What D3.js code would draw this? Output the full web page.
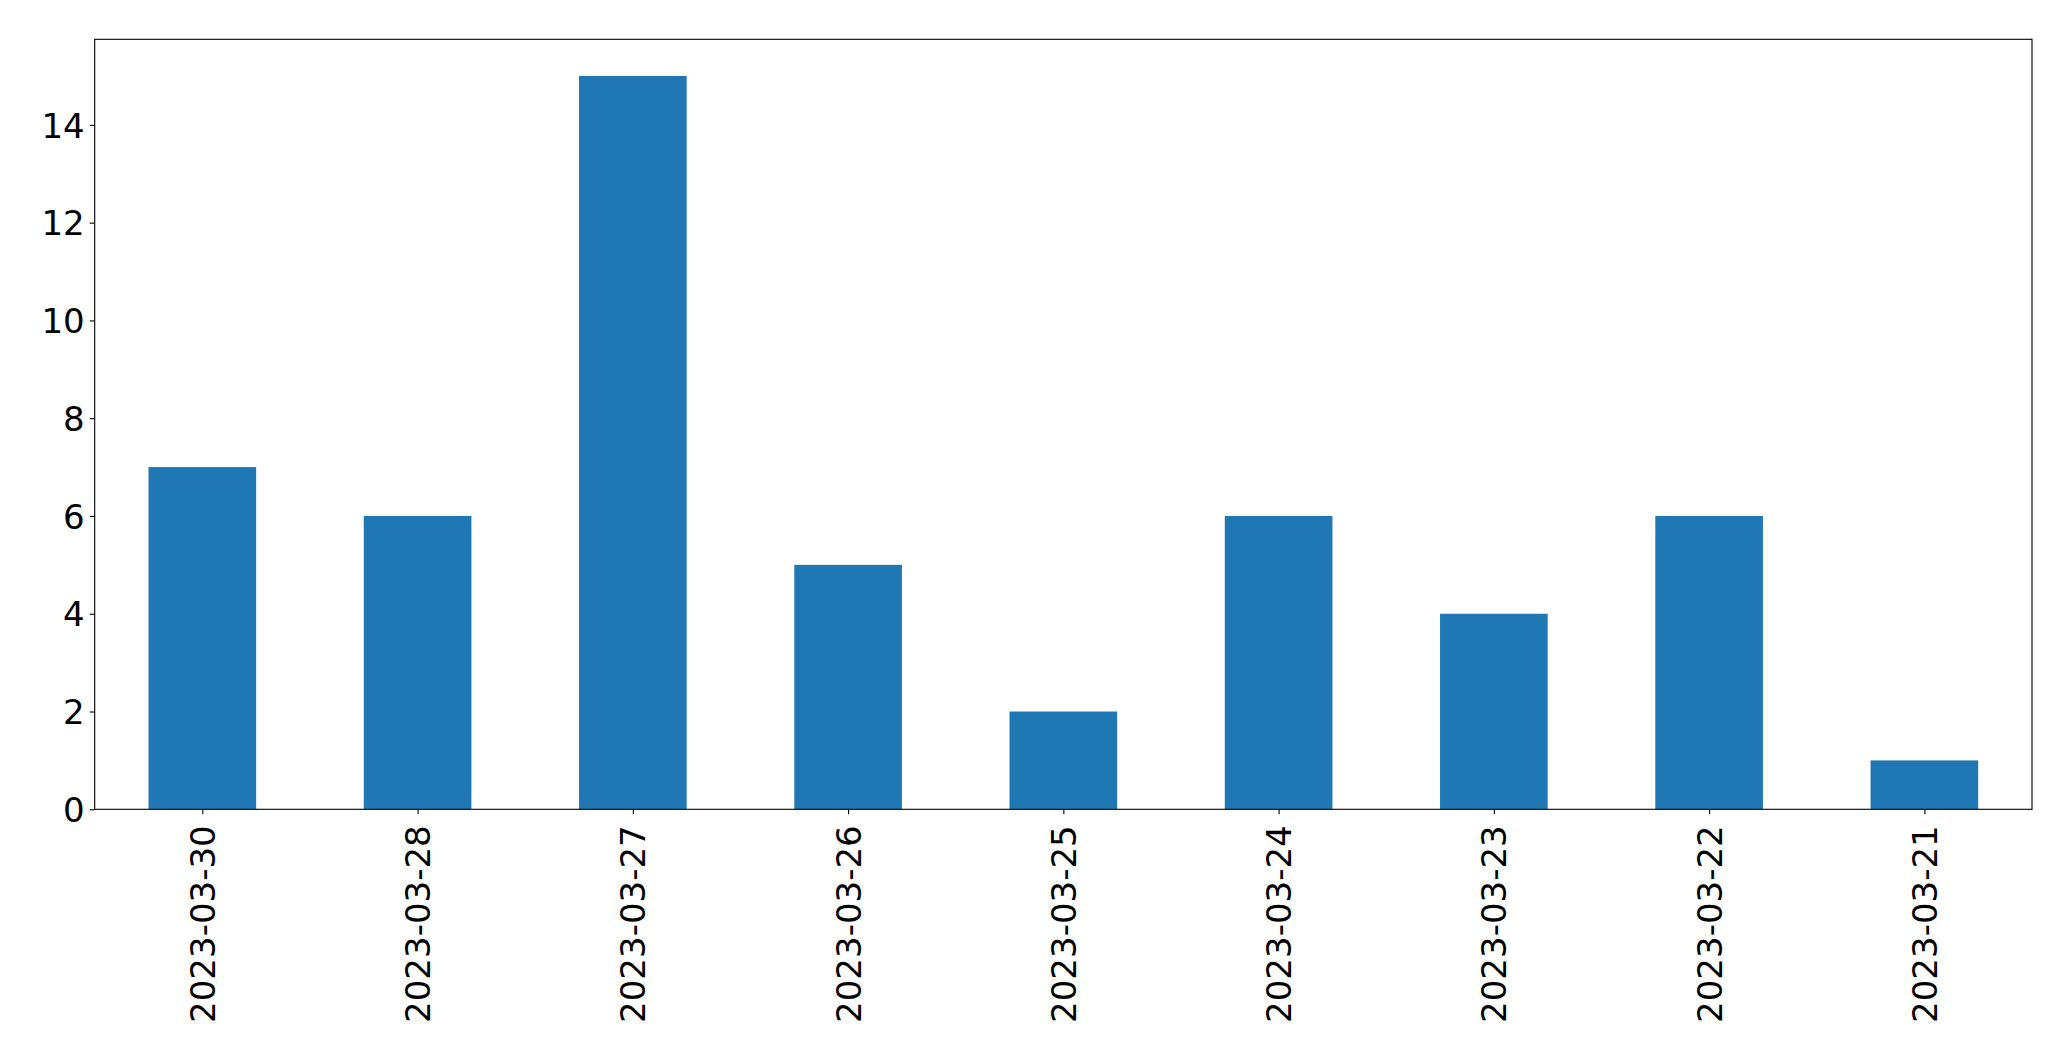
<!DOCTYPE html>
<html><head><meta charset="utf-8">
<script src="https://cdn.jsdelivr.net/npm/d3@7"></script>
<style>body{margin:0;background:#fff}svg{display:block}text{font-family:"DejaVu Sans",sans-serif}</style>
</head><body>
<script>
const categories = ["2023-03-30","2023-03-28","2023-03-27","2023-03-26","2023-03-25","2023-03-24","2023-03-23","2023-03-22","2023-03-21"];
const values = [7, 6, 15, 5, 2, 6, 4, 6, 1];
const yTicks = [0, 2, 4, 6, 8, 10, 12, 14];

(function () {
const W = 2071, H = 1061;
const mLeft = 94.7, mRight = 2032, mTop = 39.3, mBottom = 809.3;
const fs = 34;
const svg = d3.select("body").append("svg").attr("width", W).attr("height", H);

const x = d3.scaleLinear().domain([-0.5, categories.length - 0.5]).range([mLeft, mRight]);
const y = d3.scaleLinear().domain([0, d3.max(values) * 1.05]).range([mBottom, mTop]);
const bw = x(0.5) - x(0);

svg.append("g").selectAll("rect").data(values).join("rect")
  .attr("x", (d, i) => x(i) - bw / 2)
  .attr("width", bw)
  .attr("y", d => y(d))
  .attr("height", d => y(0) - y(d))
  .attr("fill", "#1f77b4");

// frame
svg.append("rect").attr("x", mLeft).attr("y", mTop).attr("width", mRight - mLeft).attr("height", mBottom - mTop)
  .attr("fill", "none").attr("stroke", "#000").attr("stroke-width", 1.1);

// y axis
const yAxis = d3.axisLeft(y).tickValues(yTicks).tickFormat(d3.format("d")).tickSize(5).tickPadding(5);
const gy = svg.append("g").attr("transform", `translate(${mLeft},0)`).call(yAxis);
gy.select(".domain").remove();
gy.selectAll("line").attr("stroke", "#000").attr("stroke-width", 1.1);
gy.selectAll("text").attr("font-size", fs).attr("fill", "#000").attr("dy", "0.36em")
  .style("font-family", "'DejaVu Sans', sans-serif");

// x axis
const xAxis = d3.axisBottom(x).tickValues(d3.range(categories.length)).tickFormat(i => categories[i]).tickSize(5).tickPadding(5);
const gx = svg.append("g").attr("transform", `translate(0,${mBottom})`).call(xAxis);
gx.select(".domain").remove();
gx.selectAll("line").attr("stroke", "#000").attr("stroke-width", 1.1);
gx.selectAll("text").attr("font-size", fs).attr("fill", "#000")
  .style("font-family", "'DejaVu Sans', sans-serif")
  .attr("text-anchor", "end").attr("dy", null).attr("y", null)
  .attr("dominant-baseline", "central")
  .attr("transform", "translate(0,16) rotate(-90)");
})();
</script>
</body></html>
